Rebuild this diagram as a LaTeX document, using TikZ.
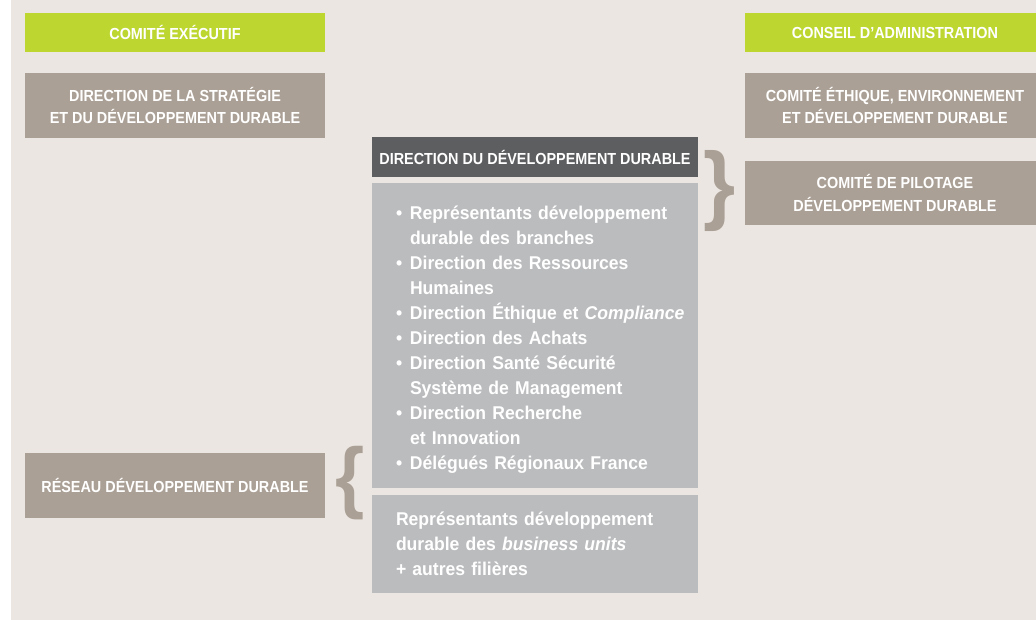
\documentclass[tikz,border=0pt]{standalone}
\usepackage{fontspec}
\setmainfont{Liberation Sans}[FakeStretch=0.95]
\newfontfamily\capsfont{Liberation Sans}[FakeStretch=0.9]
\usepackage{xcolor}
\usepackage{tikz}
\definecolor{pagebg}{RGB}{235,230,226}
\definecolor{limegreen}{RGB}{190,215,48}
\definecolor{taupe}{RGB}{171,160,149}
\definecolor{slate}{RGB}{93,94,96}
\definecolor{cloud}{RGB}{187,188,190}
\newcommand{\puce}{\makebox[14pt][l]{•}}
\newcommand{\suite}{\hspace*{14pt}}
\hyphenpenalty=10000

\begin{document}
\begin{tikzpicture}[x=1pt, y=-1pt,
    head/.style={inner sep=0pt, align=center, text=white, font=\capsfont\bfseries\fontsize{16}{22.8}\selectfont},
    greenbox/.style={head, fill=limegreen, minimum width=300pt, minimum height=39pt},
    taupebox/.style={head, fill=taupe, minimum width=300pt, minimum height=65pt},
    listbox/.style={fill=cloud, text=white, align=left, text width=278pt, inner xsep=24pt, inner ysep=0pt},
    bracket/.style={inner sep=0pt, text=taupe}]
        % page and its pale background
        \useasboundingbox (0,0) rectangle (1036,620);
        \fill[pagebg] (11,0) rectangle (1036,620);
        
        % Left column
        \node[greenbox] (comex) at (175,32.5) {COMITÉ EXÉCUTIF};
        \node[taupebox] (strategie) at (175,105.5) {DIRECTION DE LA STRATÉGIE\\ET DU DÉVELOPPEMENT DURABLE};
        \node[taupebox] (reseau) at (175,485.5) {RÉSEAU DÉVELOPPEMENT DURABLE};
        
        % Right column (cut by the page edge)
        \node[greenbox] (conseil) at (895,32.5) {CONSEIL D’ADMINISTRATION};
        \node[taupebox] (ethique) at (895,105.5) {COMITÉ ÉTHIQUE, ENVIRONNEMENT\\ET DÉVELOPPEMENT DURABLE};
        \node[taupebox, minimum height=64pt] (copil) at (895,193) {COMITÉ DE PILOTAGE\\DÉVELOPPEMENT DURABLE};
        
        % Centre column
        \node[head, fill=slate, minimum width=326pt, minimum height=40pt] (ddd) at (535,157) {DIRECTION DU DÉVELOPPEMENT DURABLE};
        \node[listbox, minimum height=305pt, font=\bfseries\fontsize{18.5}{25}\selectfont] (liste) at (535,335.5) {%
            \rule{0pt}{22pt}\puce Représentants développement\\
            \suite durable des branches\\
            \puce Direction des Ressources\\
            \suite Humaines\\
            \mbox{\puce Direction Éthique et \textit{Compliance}}\\
            \puce Direction des Achats\\
            \puce Direction Santé Sécurité\\
            \suite Système de Management\\
            \puce Direction Recherche\\
            \suite et Innovation\\
            \puce Délégués Régionaux France};
        \node[listbox, minimum height=98pt, font=\bfseries\fontsize{18.5}{24.8}\selectfont] (bu) at (535,544) {%
            Représentants développement\\
            durable des \textit{business units}\\
            + autres filières};
        
        % Braces
        \node[bracket, font=\bfseries\fontsize{87}{87}\selectfont] (rbrace) at (720,191) {\}};
        \node[bracket, font=\bfseries\fontsize{79}{79}\selectfont] (lbrace) at (350,483) {\{};
    \end{tikzpicture}
\end{document}
